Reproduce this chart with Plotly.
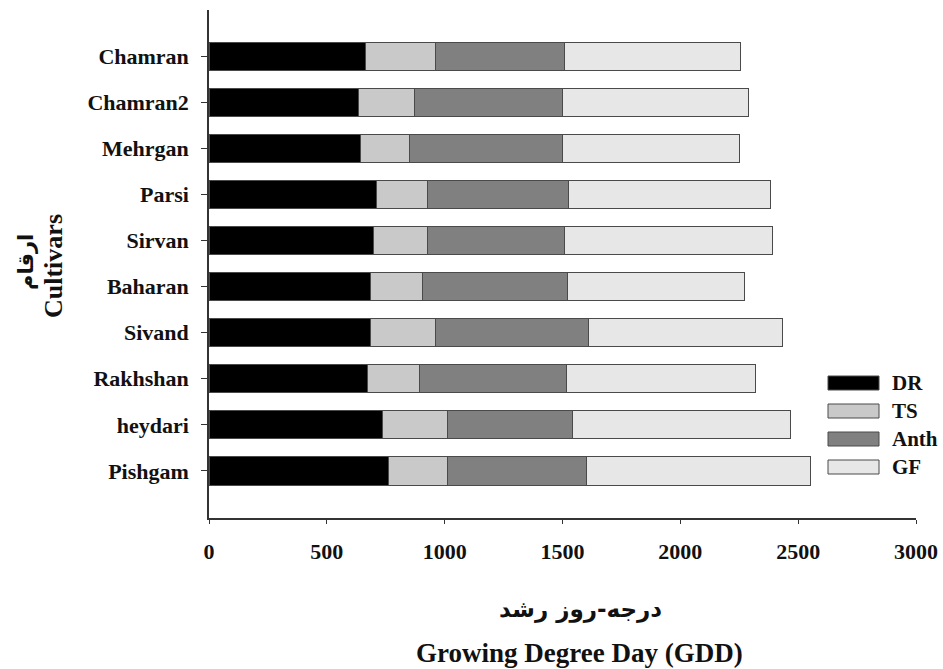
import plotly.graph_objects as go

cultivars = ["Chamran", "Chamran2", "Mehrgan", "Parsi", "Sirvan",
             "Baharan", "Sivand", "Rakhshan", "heydari", "Pishgam"]
stages = ["DR", "TS", "Anth", "GF"]
DR = [662, 635, 643, 711, 699, 687, 685, 672, 737, 762]
TS = [298, 235, 207, 217, 227, 217, 275, 220, 276, 252]
Anth = [547, 630, 650, 598, 584, 619, 652, 626, 530, 588]
GF = [749, 790, 753, 856, 880, 750, 822, 803, 925, 951]
x_ticks = [0, 500, 1000, 1500, 2000, 2500, 3000]

series = [DR, TS, Anth, GF]
colors = ["#000000", "#c9c9c9", "#808080", "#e7e7e7"]
edge = "#4a4a4a"
serif = "Liberation Serif, Times New Roman, serif"
arab = "DejaVu Sans, Noto Sans, sans-serif"

W, H = 943, 669
PL, PR, PT, PB = 209, 916, 10, 518   # plot area in page pixels
L, T = PL, PT
R, B = W - PR, H - PB
pw, ph = PR - PL, PB - PT

def px_x(px):
    return (px - PL) / pw

def px_y(py):
    return (PB - py) / ph

fig = go.Figure()
for name, vals, col in zip(stages, series, colors):
    fig.add_trace(go.Bar(
        y=cultivars, x=vals, name=name, orientation="h",
        marker=dict(color=col, line=dict(color=edge, width=1)),
        showlegend=False,
    ))

shapes = []
annotations = []
for i, (name, col) in enumerate(zip(stages, colors)):
    cy = 383 + 28 * i
    shapes.append(dict(type="rect", xref="paper", yref="paper",
                       x0=px_x(828), x1=px_x(879),
                       y0=px_y(cy + 7), y1=px_y(cy - 7),
                       fillcolor=col, line=dict(color=edge, width=1)))
    annotations.append(dict(x=px_x(890), y=px_y(cy), xref="paper", yref="paper",
                            text="<b>%s</b>" % name, showarrow=False,
                            xanchor="left", yanchor="middle",
                            font=dict(family=serif, size=21, color="#111")))

annotations += [
    dict(x=px_x(580), y=px_y(609), xref="paper", yref="paper",
         text="<b>درجه-روز رشد</b>", showarrow=False,
         xanchor="center", yanchor="middle",
         font=dict(family=arab, size=23, color="#111")),
    dict(x=px_x(579), y=px_y(653), xref="paper", yref="paper",
         text="<b>Growing Degree Day (GDD)</b>", showarrow=False,
         xanchor="center", yanchor="middle",
         font=dict(family=serif, size=27, color="#111")),
    dict(x=px_x(26), y=px_y(262), xref="paper", yref="paper",
         text="<b>ارقام</b>", showarrow=False, textangle=-90,
         xanchor="center", yanchor="middle",
         font=dict(family=arab, size=21, color="#111")),
    dict(x=px_x(53), y=px_y(266), xref="paper", yref="paper",
         text="<b>Cultivars</b>", showarrow=False, textangle=-90,
         xanchor="center", yanchor="middle",
         font=dict(family=serif, size=26, color="#111")),
]

fig.update_layout(
    width=W, height=H,
    margin=dict(l=L, r=R, t=T, b=B, pad=0),
    barmode="stack", bargap=0.39,
    plot_bgcolor="white", paper_bgcolor="white",
    shapes=shapes, annotations=annotations,
    xaxis=dict(range=[0, 3000], tickvals=x_ticks,
               ticktext=["<b>%d</b>" % v for v in x_ticks],
               showgrid=False, zeroline=False, automargin=False,
               showline=True, linecolor="#333", linewidth=1.5,
               ticks="outside", ticklen=4, tickcolor="#333",
               ticklabelstandoff=9,
               tickfont=dict(family=serif, size=22, color="#111")),
    yaxis=dict(categoryorder="array", categoryarray=cultivars[::-1],
               range=[-1.02, 10.0],
               tickvals=cultivars,
               ticktext=["<b>%s</b>" % c for c in cultivars],
               showgrid=False, zeroline=False, automargin=False,
               showline=True, linecolor="#333", linewidth=1.5,
               ticks="outside", ticklen=6, tickcolor="#333",
               ticklabelstandoff=8,
               tickfont=dict(family=serif, size=22, color="#111")),
)

fig.write_html(
    "out.html",
    config={"displayModeBar": False},
    post_script="document.body.style.margin='0';document.body.style.overflow='hidden';",
)
